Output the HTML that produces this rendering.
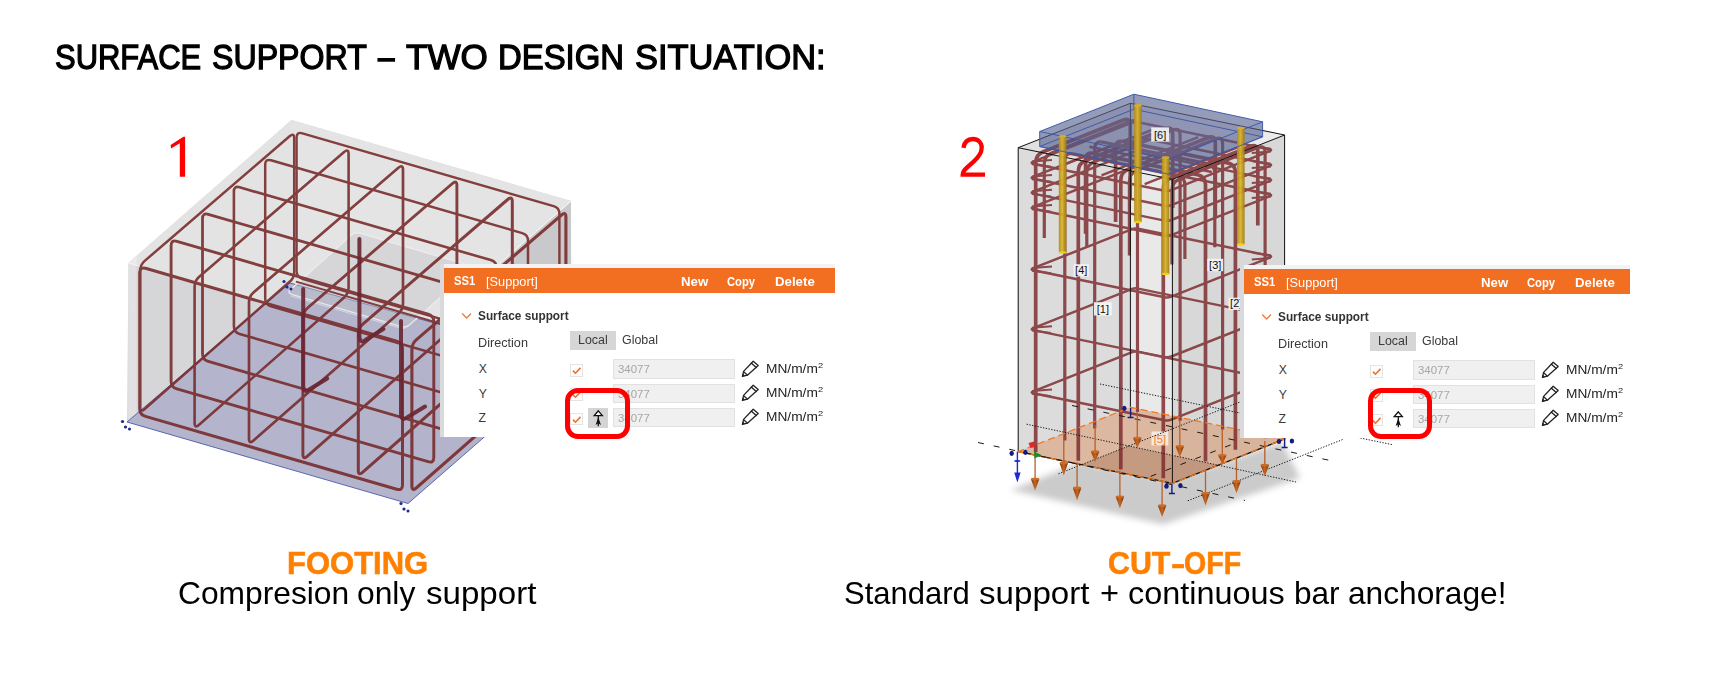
<!DOCTYPE html>
<html><head><meta charset="utf-8"><title>Surface support</title>
<style>
html,body{margin:0;padding:0;background:#fff;}
body{width:1723px;height:678px;position:relative;overflow:hidden;font-family:"Liberation Sans",sans-serif;}
.t{position:absolute;white-space:pre;font-family:"Liberation Sans",sans-serif;}
.abs{position:absolute;}
svg{position:absolute;left:0;top:0;}
</style></head><body>

<svg width="1723" height="678" viewBox="0 0 1723 678">
<polygon points="291.5,120.0 128.5,263.0 127.0,422.0 408.0,503.5 571.5,361.0 571.0,201.0" fill="#dadadb" stroke="none" stroke-width="0" opacity="1" />
<polygon points="291.5,120.0 128.5,263.0 128.5,422.0 291.5,279.0" fill="#d9d9da" stroke="none" stroke-width="0" opacity="1" />
<polygon points="291.5,120.0 571.0,201.0 571.0,360.0 291.5,279.0" fill="#dbdbdc" stroke="none" stroke-width="0" opacity="1" />
<polygon points="128.5,263.0 408.0,344.0 408.0,503.0 128.5,422.0" fill="#c8c8d0" stroke="none" stroke-width="0" opacity="0.12" />
<polygon points="408.0,344.0 571.0,201.0 571.0,360.0 408.0,503.0" fill="#808088" stroke="none" stroke-width="0" opacity="0.2" />
<polygon points="291.5,120.0 128.5,263.0 408.0,344.0 571.0,201.0" fill="#ffffff" stroke="none" stroke-width="0" opacity="0.26" />
<polygon points="128.5,263.0 136.5,256.0 136.5,424.3 128.5,422.0" fill="#ffffff" stroke="none" stroke-width="0" opacity="0.28" />
<g stroke="#f6f6f6" stroke-width="1.1" fill="none" opacity="0.85">
<path d="M128.5 263.0 L408.0 344.0 L571.0 201.0"/>
<path d="M408.0 344.0 L408.0 503.0"/>
</g>
<polygon points="290.0,283.0 127.0,422.0 408.0,503.5 571.5,361.0" fill="#b3b4cc" stroke="#4a58a8" stroke-width="0.9" opacity="0.97" />
<path d="M359.8 233.2 Q355.0 231.8 351.3 235.1 L290.5 289.6 Q286.8 292.9 291.6 294.3 L401.2 326.6 Q406.0 328.0 409.7 324.7 L470.5 270.2 Q474.2 266.9 469.4 265.5 Z" fill="#c4c4c8" fill-opacity="0.42" stroke="#ededed" stroke-width="1.3" stroke-opacity="0.9"/>
<path d="M290.8 295.9 L400.2 328.1 Q405.0 329.5 408.7 326.1 L469.2 269.9" fill="none" stroke="#e6e6e8" stroke-width="1" stroke-opacity="0.7"/>
<g fill="none" stroke="#762828" stroke-linejoin="round" opacity="0.88">
<path d="M296.6 137.6 Q296.6 131.6 302.4 133.3 L553.6 206.1 Q559.4 207.7 559.4 213.7 L559.4 347.3 Q559.4 353.3 553.6 351.6 L302.4 278.8 Q296.6 277.1 296.6 271.1 Z" stroke-width="2.4"/>
<path d="M265.2 164.6 Q265.2 158.6 271.0 160.3 L522.2 233.1 Q528.0 234.7 528.0 240.7 L528.0 374.8 Q528.0 380.8 522.2 379.1 L271.0 306.3 Q265.2 304.7 265.2 298.7 Z" stroke-width="2.5"/>
<path d="M233.9 191.6 Q233.9 185.6 239.6 187.3 L490.8 260.1 Q496.6 261.8 496.6 267.8 L496.6 402.3 Q496.6 408.3 490.8 406.7 L239.6 333.9 Q233.9 332.2 233.9 326.2 Z" stroke-width="2.6"/>
<path d="M202.5 218.6 Q202.5 212.6 208.3 214.3 L459.5 287.1 Q465.2 288.8 465.2 294.8 L465.2 429.9 Q465.2 435.9 459.5 434.2 L208.3 361.4 Q202.5 359.7 202.5 353.7 Z" stroke-width="2.8"/>
<path d="M171.1 245.6 Q171.1 239.6 176.9 241.3 L428.1 314.1 Q433.8 315.8 433.8 321.8 L433.8 457.4 Q433.8 463.4 428.1 461.7 L176.9 388.9 Q171.1 387.2 171.1 381.2 Z" stroke-width="2.9"/>
<path d="M139.7 272.6 Q139.7 266.6 145.5 268.3 L396.7 341.1 Q402.5 342.8 402.5 348.8 L402.5 484.9 Q402.5 490.9 396.7 489.2 L145.5 416.4 Q139.7 414.8 139.7 408.8 Z" stroke-width="3.0"/>
<path d="M294.2 138.4 Q294.2 132.4 289.6 136.3 L144.7 260.9 Q140.2 264.8 140.2 270.8 L140.2 407.0 Q140.2 413.0 144.7 409.0 L289.6 281.8 Q294.2 277.9 294.2 271.9 Z" stroke-width="2.5"/>
<path d="M348.6 154.2 Q348.6 148.2 344.1 152.1 L199.2 276.7 Q194.6 280.6 194.6 286.6 L194.6 422.8 Q194.6 428.8 199.1 424.8 L344.1 297.6 Q348.6 293.6 348.6 287.6 Z" stroke-width="2.6"/>
<path d="M403.0 169.9 Q403.0 163.9 398.4 167.8 L253.5 292.4 Q249.0 296.3 249.0 302.3 L249.0 438.5 Q249.0 444.5 253.5 440.6 L398.5 313.4 Q403.0 309.4 403.0 303.4 Z" stroke-width="2.7"/>
<path d="M456.9 185.6 Q456.9 179.6 452.4 183.5 L307.5 308.0 Q302.9 312.0 302.9 318.0 L302.9 454.1 Q302.9 460.1 307.4 456.2 L452.4 329.0 Q456.9 325.0 456.9 319.0 Z" stroke-width="2.9"/>
<path d="M512.3 201.6 Q512.3 195.6 507.7 199.5 L362.8 324.1 Q358.3 328.0 358.3 334.0 L358.3 470.2 Q358.3 476.2 362.8 472.2 L507.8 345.0 Q512.3 341.1 512.3 335.1 Z" stroke-width="3.0"/>
<path d="M565.9 217.1 Q565.9 211.1 561.4 215.1 L416.5 339.6 Q411.9 343.5 411.9 349.5 L411.9 485.7 Q411.9 491.7 416.5 487.8 L561.4 360.6 Q565.9 356.6 565.9 350.6 Z" stroke-width="3.1"/>
<path d="M296.0 281.6 L440.0 323.5" stroke-width="2"/>
</g>
<g fill="none" stroke="#6a2733" stroke-width="4" stroke-linecap="round" stroke-linejoin="round" opacity="0.92">
<path d="M359.4 239.0 L359.4 336.5 Q359.9 344.0 365.4 340.0 L383.4 329.0"/>
<path d="M303.2 289.0 L303.2 386.0 Q303.7 393.5 309.2 389.5 L327.2 378.5"/>
<path d="M401.0 321.0 L401.0 414.0 Q401.5 421.5 407.0 417.5 L425.0 406.5"/>
<path d="M457.0 271.0 L457.0 368.0 Q457.5 375.5 463.0 371.5 L481.0 360.5"/>
</g>
<g fill="#1a2a8a"><circle cx="122.5" cy="421.5" r="1.6"/><circle cx="125.5" cy="427.0" r="1.6"/><circle cx="129.5" cy="429.0" r="1.5"/></g>
<g fill="#1a2a8a"><circle cx="284.0" cy="281.5" r="1.6"/><circle cx="287.0" cy="287.0" r="1.6"/><circle cx="291.0" cy="289.0" r="1.5"/></g>
<g fill="#1a2a8a"><circle cx="401.0" cy="503.5" r="1.6"/><circle cx="404.0" cy="509.0" r="1.6"/><circle cx="408.0" cy="511.0" r="1.5"/></g>
<defs><filter id="blr" x="-10%" y="-10%" width="120%" height="130%"><feGaussianBlur stdDeviation="3"/></filter><linearGradient id="yg" x1="0" x2="1" y1="0" y2="0"><stop offset="0" stop-color="#b08a18"/><stop offset="0.45" stop-color="#dcb52c"/><stop offset="1" stop-color="#a07c14"/></linearGradient><linearGradient id="cg" x1="0" x2="1" y1="0" y2="0"><stop offset="0" stop-color="#803808"/><stop offset="0.5" stop-color="#c86620"/><stop offset="1" stop-color="#70300a"/></linearGradient></defs>
<polygon points="1080.0,462.0 1011.0,490.0 1163.0,524.5 1300.0,478.0 1282.0,442.0 1170.0,480.0" fill="#cbcbcb" stroke="none" stroke-width="0" opacity="1" filter="url(#blr)"/>
<polygon points="1018.2,147.7 1130.4,103.3 1284.6,135.0 1284.6,439.0 1172.4,483.4 1018.2,451.7" fill="#dadada" stroke="none" stroke-width="0" opacity="1" />
<polygon points="1130.4,103.3 1284.6,135.0 1284.6,439.0 1130.4,407.3" fill="#e2e2e2" stroke="none" stroke-width="0" opacity="1" />
<polygon points="1018.2,147.7 1130.4,103.3 1130.4,407.3 1018.2,451.7" fill="#d1d1d1" stroke="none" stroke-width="0" opacity="1" />
<polygon points="1172.4,179.4 1284.6,135.0 1284.6,439.0 1172.4,483.4" fill="#a8a8a8" stroke="none" stroke-width="0" opacity="0.16" />
<polygon points="1018.2,147.7 1172.4,179.4 1172.4,483.4 1018.2,451.7" fill="#ffffff" stroke="none" stroke-width="0" opacity="0.25" />
<polygon points="1018.2,147.7 1130.4,103.3 1284.6,135.0 1172.4,179.4" fill="#ffffff" stroke="none" stroke-width="0" opacity="0.35" />
<polygon points="1018.2,451.7 1172.4,483.4 1284.6,439.0 1130.4,407.3" fill="#dba98a" stroke="none" stroke-width="0" opacity="0.75" />
<polygon points="1128.5,446.1 1218.0,465.3 1172.4,483.4 1081.3,464.7" fill="#8a5a3c" stroke="none" stroke-width="0" opacity="0.3" />
<g fill="none" stroke="#7c2b2e" stroke-linecap="butt" stroke-linejoin="round" opacity="0.83">
<path d="M1033.4 163.7 Q1030.0 163.0 1033.3 161.7 L1131.5 122.8 Q1134.8 121.5 1138.2 122.2 L1269.4 149.2 Q1272.8 149.9 1269.5 151.2 L1171.3 190.1 Q1168.0 191.4 1164.6 190.7 Z" stroke-width="2.5"/>
<path d="M1032.0 161.4 l20 -1.5 M1032.0 164.2 l19 2.5" stroke-width="2"/>
<path d="M1270.8 151.5 l-19 1.5 M1270.8 148.7 l-18 -2.5" stroke-width="2"/>
<path d="M1033.4 178.7 Q1030.0 178.0 1033.3 176.7 L1131.5 137.8 Q1134.8 136.5 1138.2 137.2 L1269.4 164.2 Q1272.8 164.9 1269.5 166.2 L1171.3 205.1 Q1168.0 206.4 1164.6 205.7 Z" stroke-width="2.5"/>
<path d="M1032.0 176.4 l20 -1.5 M1032.0 179.2 l19 2.5" stroke-width="2"/>
<path d="M1270.8 166.5 l-19 1.5 M1270.8 163.7 l-18 -2.5" stroke-width="2"/>
<path d="M1033.4 193.6 Q1030.0 192.9 1033.3 191.6 L1131.5 152.7 Q1134.8 151.4 1138.2 152.1 L1269.4 179.1 Q1272.8 179.8 1269.5 181.1 L1171.3 220.0 Q1168.0 221.3 1164.6 220.6 Z" stroke-width="2.5"/>
<path d="M1032.0 191.3 l20 -1.5 M1032.0 194.1 l19 2.5" stroke-width="2"/>
<path d="M1270.8 181.4 l-19 1.5 M1270.8 178.6 l-18 -2.5" stroke-width="2"/>
<path d="M1033.4 208.8 Q1030.0 208.1 1033.3 206.8 L1131.5 167.9 Q1134.8 166.6 1138.2 167.3 L1269.4 194.3 Q1272.8 195.0 1269.5 196.3 L1171.3 235.2 Q1168.0 236.5 1164.6 235.8 Z" stroke-width="2.5"/>
<path d="M1032.0 206.5 l20 -1.5 M1032.0 209.3 l19 2.5" stroke-width="2"/>
<path d="M1270.8 196.6 l-19 1.5 M1270.8 193.8 l-18 -2.5" stroke-width="2"/>
<path d="M1033.4 270.2 Q1030.0 269.5 1033.3 268.2 L1131.5 229.3 Q1134.8 228.0 1138.2 228.7 L1269.4 255.7 Q1272.8 256.4 1269.5 257.7 L1171.3 296.6 Q1168.0 297.9 1164.6 297.2 Z" stroke-width="2.5"/>
<path d="M1032.0 267.9 l20 -1.5 M1032.0 270.7 l19 2.5" stroke-width="2"/>
<path d="M1270.8 258.0 l-19 1.5 M1270.8 255.2 l-18 -2.5" stroke-width="2"/>
<path d="M1033.4 330.1 Q1030.0 329.4 1033.3 328.1 L1131.5 289.2 Q1134.8 287.9 1138.2 288.6 L1269.4 315.6 Q1272.8 316.3 1269.5 317.6 L1171.3 356.5 Q1168.0 357.8 1164.6 357.1 Z" stroke-width="2.5"/>
<path d="M1032.0 327.8 l20 -1.5 M1032.0 330.6 l19 2.5" stroke-width="2"/>
<path d="M1270.8 317.9 l-19 1.5 M1270.8 315.1 l-18 -2.5" stroke-width="2"/>
<path d="M1033.4 393.3 Q1030.0 392.6 1033.3 391.3 L1131.5 352.4 Q1134.8 351.1 1138.2 351.9 L1269.4 378.8 Q1272.8 379.5 1269.5 380.8 L1171.3 419.7 Q1168.0 421.0 1164.6 420.3 Z" stroke-width="2.5"/>
<path d="M1032.0 391.0 l20 -1.5 M1032.0 393.8 l19 2.5" stroke-width="2"/>
<path d="M1270.8 381.1 l-19 1.5 M1270.8 378.3 l-18 -2.5" stroke-width="2"/>
<path d="M1035.7 452.0 L1035.7 162.7 Q1035.7 154.7 1043.2 151.7 L1122.8 120.2 Q1130.2 117.3 1130.2 125.3 L1130.2 199.4" stroke-width="3.7"/>
<path d="M1137.5 412.1 L1137.5 126.4 Q1137.5 118.4 1130.1 121.4 L1051.7 153.1 Q1044.3 156.0 1044.3 164.0 L1044.3 238.1" stroke-width="3.2"/>
<path d="M1078.3 460.7 L1078.3 171.4 Q1078.3 163.4 1085.7 160.5 L1165.3 129.0 Q1172.7 126.0 1172.7 134.0 L1172.7 208.1" stroke-width="3.7"/>
<path d="M1180.1 420.8 L1180.1 135.2 Q1180.1 127.2 1172.7 130.1 L1094.3 161.8 Q1086.8 164.8 1086.8 172.8 L1086.8 246.9" stroke-width="3.2"/>
<path d="M1120.8 469.5 L1120.8 180.2 Q1120.8 172.2 1128.2 169.2 L1207.8 137.7 Q1215.3 134.8 1215.3 142.8 L1215.3 216.9" stroke-width="3.7"/>
<path d="M1222.6 429.6 L1222.6 143.9 Q1222.6 135.9 1215.2 138.9 L1136.8 170.5 Q1129.4 173.5 1129.4 181.5 L1129.4 255.6" stroke-width="3.2"/>
<path d="M1163.3 478.2 L1163.3 188.9 Q1163.3 180.9 1170.7 178.0 L1250.3 146.5 Q1257.8 143.5 1257.8 151.5 L1257.8 225.6" stroke-width="3.7"/>
<path d="M1265.1 438.3 L1265.1 152.6 Q1265.1 144.6 1257.7 147.6 L1179.3 179.3 Q1171.9 182.3 1171.9 190.3 L1171.9 264.4" stroke-width="3.2"/>
<path d="M1064.8 440.5 L1064.8 160.3 Q1064.8 152.3 1072.6 153.9 L1177.1 175.4 Q1184.9 177.0 1184.9 185.0 L1184.9 259.1" stroke-width="3.2"/>
<path d="M1235.4 449.7 L1235.4 172.5 Q1235.4 164.5 1227.6 162.9 L1123.4 141.5 Q1115.6 139.9 1115.6 147.9 L1115.6 222.0" stroke-width="3.7"/>
<path d="M1094.7 428.6 L1094.7 148.5 Q1094.7 140.5 1102.6 142.1 L1207.0 163.5 Q1214.8 165.2 1214.8 173.2 L1214.8 247.2" stroke-width="3.2"/>
<path d="M1205.5 461.5 L1205.5 184.4 Q1205.5 176.4 1197.6 174.7 L1093.5 153.3 Q1085.6 151.7 1085.6 159.7 L1085.6 233.8" stroke-width="3.7"/>
<path d="M1155.8 128.4 L1059.1 166.7" stroke-width="2.4"/>
<path d="M1198.2 137.1 L1101.5 175.4" stroke-width="2.4"/>
<path d="M1241.4 146.0 L1144.7 184.2" stroke-width="2.4"/>
<path d="M1089.4 146.8 L1211.8 172.0" stroke-width="2.4"/>
</g>
<g fill="none" stroke="#111" stroke-width="1">
<path d="M1018.2 147.7 L1130.4 103.3 L1284.6 135.0 L1172.4 179.4 Z"/>
<path d="M1018.2 147.7 L1018.2 451.7"/>
<path d="M1172.4 179.4 L1172.4 483.4"/>
<path d="M1284.6 135.0 L1284.6 439.0"/>
<path d="M1130.4 103.3 L1130.4 407.3"/>
<path d="M1018.2 451.7 L1172.4 483.4 L1284.6 439.0" stroke-width="1.3"/>
</g>
<path d="M1018.2 451.7 L1172.4 483.4 L1284.6 439.0 L1130.4 407.3 Z" fill="none" stroke="#f07a22" stroke-width="1.3" stroke-dasharray="7 4"/>
<polygon points="1039.7,131.5 1133.9,94.2 1262.6,121.8 1262.6,136.8 1168.4,174.1 1039.7,146.5" fill="#4f5a8a" stroke="none" stroke-width="0" opacity="0.62" />
<polygon points="1039.7,131.5 1133.9,94.2 1262.6,121.8 1168.4,159.1" fill="#b9c0da" stroke="none" stroke-width="0" opacity="0.08" />
<g fill="none" stroke="#3a58aa" stroke-width="1" opacity="0.95">
<path d="M1039.7 131.5 L1133.9 94.2 L1262.6 121.8 L1168.4 159.1 Z"/>
<path d="M1039.7 146.5 L1133.9 109.2 L1262.6 136.8 L1168.4 174.1 Z"/>
<path d="M1039.7 131.5 L1039.7 146.5"/>
<path d="M1133.9 94.2 L1133.9 109.2"/>
<path d="M1262.6 121.8 L1262.6 136.8"/>
<path d="M1168.4 159.1 L1168.4 174.1"/>
</g>
<rect x="1134.1" y="105.4" width="7.6" height="116.6" fill="url(#yg)" opacity="0.93"/>
<ellipse cx="1137.9" cy="105.4" rx="3.8" ry="1.3" fill="#d4ae30"/>
<ellipse cx="1137.9" cy="222.0" rx="3.8" ry="1.2" fill="#f0d018"/>
<rect x="1058.8" y="136.3" width="7.6" height="116.2" fill="url(#yg)" opacity="0.93"/>
<ellipse cx="1062.6" cy="136.3" rx="3.8" ry="1.3" fill="#d4ae30"/>
<ellipse cx="1062.6" cy="252.5" rx="3.8" ry="1.2" fill="#f0d018"/>
<rect x="1237.0" y="128.0" width="7.6" height="116.5" fill="url(#yg)" opacity="0.93"/>
<ellipse cx="1240.8" cy="128.0" rx="3.8" ry="1.3" fill="#d4ae30"/>
<ellipse cx="1240.8" cy="244.5" rx="3.8" ry="1.2" fill="#f0d018"/>
<rect x="1161.8" y="157.6" width="7.6" height="116.4" fill="url(#yg)" opacity="0.93"/>
<ellipse cx="1165.6" cy="157.6" rx="3.8" ry="1.3" fill="#d4ae30"/>
<ellipse cx="1165.6" cy="274.0" rx="3.8" ry="1.2" fill="#f0d018"/>
<path d="M1039.7 146.5 L1168.4 174.1 L1262.6 136.8" fill="none" stroke="#3a58aa" stroke-width="1" opacity="0.8"/>
<rect x="1151.2" y="127.4" width="17.8" height="14.2" fill="#f4f4f4" opacity="0.92"/><text x="1160.1" y="139.0" font-family="Liberation Sans, sans-serif" font-size="11" fill="#111" text-anchor="middle">[6]</text>
<rect x="1073.7" y="264.2" width="15.1" height="12.3" fill="#f4f4f4" opacity="0.92"/><text x="1081.2" y="273.9" font-family="Liberation Sans, sans-serif" font-size="11" fill="#111" text-anchor="middle">[4]</text>
<rect x="1094.0" y="302.2" width="17.8" height="13.3" fill="#f4f4f4" opacity="0.92"/><text x="1102.9" y="312.9" font-family="Liberation Sans, sans-serif" font-size="11" fill="#111" text-anchor="middle">[1]</text>
<rect x="1207.3" y="258.8" width="15.9" height="12.4" fill="#f4f4f4" opacity="0.92"/><text x="1215.2" y="268.6" font-family="Liberation Sans, sans-serif" font-size="11" fill="#111" text-anchor="middle">[3]</text>
<rect x="1228.5" y="297.7" width="15.5" height="12.3" fill="#f4f4f4" opacity="0.92"/><text x="1236.2" y="307.4" font-family="Liberation Sans, sans-serif" font-size="11" fill="#111" text-anchor="middle">[2]</text>
<rect x="1151.5" y="431.5" width="16.8" height="13.9" fill="#f8ebe3" opacity="0.92"/><text x="1159.9" y="442.8" font-family="Liberation Sans, sans-serif" font-size="11" fill="#f08030" text-anchor="middle">[5]</text>
<g fill="none" stroke="#1a1a1a" stroke-width="1">
<path d="M978 442.5 L1245 500.5" stroke-dasharray="6 10"/>
<path d="M1072 405.5 L1335 461.5" stroke-dasharray="6 10"/>
<path d="M1150.6 476.4 L1240 441.2" stroke-dasharray="6 10"/>
<path d="M1026.6 424.2 L1150 450.5 L1296 482" stroke-dasharray="1.3 1.5"/>
<path d="M1100 384 L1392 444.6" stroke-dasharray="1.3 1.5"/>
<path d="M1058.5 473.8 L1240 402" stroke-dasharray="1.3 1.5"/>
<path d="M1187.8 500.8 L1344 439" stroke-dasharray="1.3 1.5"/>
</g>
<path d="M1035.1 452.0 L1035.1 479.0" stroke="#b8602a" stroke-width="1.3"/>
<path d="M1030.9 479.0 L1039.3 479.0 L1035.1 490.6 Z" fill="url(#cg)"/>
<ellipse cx="1035.1" cy="479.0" rx="4.2" ry="1.3" fill="#cc6c26"/>
<path d="M1063.8 436.6 L1063.8 463.1" stroke="#b8602a" stroke-width="1.3"/>
<path d="M1059.6 463.1 L1068.0 463.1 L1063.8 475.5 Z" fill="url(#cg)"/>
<ellipse cx="1063.8" cy="463.1" rx="4.2" ry="1.3" fill="#cc6c26"/>
<path d="M1077.1 462.3 L1077.1 487.9" stroke="#b8602a" stroke-width="1.3"/>
<path d="M1072.9 487.9 L1081.3 487.9 L1077.1 500.3 Z" fill="url(#cg)"/>
<ellipse cx="1077.1" cy="487.9" rx="4.2" ry="1.3" fill="#cc6c26"/>
<path d="M1095.1 425.0 L1095.1 451.6" stroke="#b8602a" stroke-width="1.3"/>
<path d="M1090.9 451.6 L1099.3 451.6 L1095.1 462.3 Z" fill="url(#cg)"/>
<ellipse cx="1095.1" cy="451.6" rx="4.2" ry="1.3" fill="#cc6c26"/>
<path d="M1119.9 471.0 L1119.9 496.8" stroke="#b8602a" stroke-width="1.3"/>
<path d="M1115.7 496.8 L1124.1 496.8 L1119.9 508.3 Z" fill="url(#cg)"/>
<ellipse cx="1119.9" cy="496.8" rx="4.2" ry="1.3" fill="#cc6c26"/>
<path d="M1137.3 411.0 L1137.3 438.0" stroke="#b8602a" stroke-width="1.3"/>
<path d="M1133.1 438.0 L1141.5 438.0 L1137.3 448.0 Z" fill="url(#cg)"/>
<ellipse cx="1137.3" cy="438.0" rx="4.2" ry="1.3" fill="#cc6c26"/>
<path d="M1162.1 481.0 L1162.1 505.6" stroke="#b8602a" stroke-width="1.3"/>
<path d="M1157.9 505.6 L1166.3 505.6 L1162.1 517.0 Z" fill="url(#cg)"/>
<ellipse cx="1162.1" cy="505.6" rx="4.2" ry="1.3" fill="#cc6c26"/>
<path d="M1179.8 420.0 L1179.8 446.3" stroke="#b8602a" stroke-width="1.3"/>
<path d="M1175.6 446.3 L1184.0 446.3 L1179.8 457.0 Z" fill="url(#cg)"/>
<ellipse cx="1179.8" cy="446.3" rx="4.2" ry="1.3" fill="#cc6c26"/>
<path d="M1205.5 470.0 L1205.5 493.2" stroke="#b8602a" stroke-width="1.3"/>
<path d="M1201.3 493.2 L1209.7 493.2 L1205.5 505.6 Z" fill="url(#cg)"/>
<ellipse cx="1205.5" cy="493.2" rx="4.2" ry="1.3" fill="#cc6c26"/>
<path d="M1222.3 429.0 L1222.3 455.2" stroke="#b8602a" stroke-width="1.3"/>
<path d="M1218.1 455.2 L1226.5 455.2 L1222.3 464.5 Z" fill="url(#cg)"/>
<ellipse cx="1222.3" cy="455.2" rx="4.2" ry="1.3" fill="#cc6c26"/>
<path d="M1236.5 458.0 L1236.5 481.4" stroke="#b8602a" stroke-width="1.3"/>
<path d="M1232.3 481.4 L1240.7 481.4 L1236.5 493.2 Z" fill="url(#cg)"/>
<ellipse cx="1236.5" cy="481.4" rx="4.2" ry="1.3" fill="#cc6c26"/>
<path d="M1264.8 441.0 L1264.8 465.0" stroke="#b8602a" stroke-width="1.3"/>
<path d="M1260.6 465.0 L1269.0 465.0 L1264.8 476.4 Z" fill="url(#cg)"/>
<ellipse cx="1264.8" cy="465.0" rx="4.2" ry="1.3" fill="#cc6c26"/>
<path d="M1017.4 452 L1017.4 476" stroke="#1c2ad8" stroke-width="1.4"/><path d="M1014.2 472.5 L1020.6 472.5 L1017.4 482.5 Z" fill="#1c2ad8"/><ellipse cx="1017.4" cy="461" rx="3.2" ry="1.1" fill="#1c2ad8"/>
<path d="M1028.5 443 l5.5 -1.5 l1 5.5 l-4.5 1 z" fill="#e02828"/><path d="M1034 451.5 l7.5 3.5 l-7 3.5 z" fill="#14902a"/>
<ellipse cx="1011.7" cy="453.3" rx="2.2" ry="2.6" fill="#141a80"/>
<ellipse cx="1025.4" cy="452.3" rx="2.2" ry="2.6" fill="#141a80"/>
<ellipse cx="1166.5" cy="486.2" rx="2.2" ry="2.6" fill="#141a80"/>
<ellipse cx="1180.4" cy="485.6" rx="2.2" ry="2.6" fill="#141a80"/>
<ellipse cx="1279.0" cy="441.4" rx="2.2" ry="2.6" fill="#141a80"/>
<ellipse cx="1291.9" cy="441.0" rx="2.2" ry="2.6" fill="#141a80"/>
<ellipse cx="1124.3" cy="408.3" rx="2.2" ry="2.6" fill="#141a80"/>
<path d="M1171.9 484.0 l0 9.5 m-3 0 l6 0" stroke="#141a80" stroke-width="1.4" fill="none"/>
<path d="M1284.6 438.0 l0 9.5 m-3 0 l6 0" stroke="#141a80" stroke-width="1.4" fill="none"/>
<path d="M1130.6 408.0 l0 9.5 m-3 0 l6 0" stroke="#141a80" stroke-width="1.4" fill="none"/>
</svg>
<div class="abs" style="left:0px;top:0px;width:0;height:0;">
<div class="abs" style="left:440px;top:264px;width:395px;height:173px;background:#fff;"></div>
<div class="abs" style="left:440px;top:264px;width:395px;height:4px;background:#f3f3f5;"></div>
<div class="abs" style="left:440px;top:264px;width:4px;height:173px;background:#dadadc;"></div>
<div class="abs" style="left:444px;top:268px;width:391px;height:25px;background:#f26f21;"></div>
<span class="t" style="left:453.66px;top:274.66px;font-size:12.80px;line-height:12.80px;color:#fff;font-weight:bold;transform:scaleX(0.8782);transform-origin:0 0;">SS1</span>
<span class="t" style="left:485.61px;top:275.54px;font-size:12.00px;line-height:12.00px;color:#fff;transform:scaleX(1.0636);transform-origin:0 0;">[Support]</span>
<span class="t" style="left:680.61px;top:275.54px;font-size:12.00px;line-height:12.00px;color:#fff;font-weight:bold;transform:scaleX(1.1013);transform-origin:0 0;">New</span>
<span class="t" style="left:727.35px;top:275.54px;font-size:12.00px;line-height:12.00px;color:#fff;font-weight:bold;transform:scaleX(0.9369);transform-origin:0 0;">Copy</span>
<span class="t" style="left:775.41px;top:275.54px;font-size:12.00px;line-height:12.00px;color:#fff;font-weight:bold;transform:scaleX(1.1034);transform-origin:0 0;">Delete</span>
<svg class="abs" style="left:461px;top:312px" width="12" height="8" viewBox="0 0 12 8"><path d="M1.2 1.5 L5.6 6 L10 1.5" fill="none" stroke="#f07a3a" stroke-width="1.3"/></svg>
<span class="t" style="left:478.45px;top:309.54px;font-size:12.00px;line-height:12.00px;color:#333;font-weight:bold;transform:scaleX(0.9847);transform-origin:0 0;">Surface support</span>
<span class="t" style="left:478.16px;top:336.94px;font-size:12.00px;line-height:12.00px;color:#3a3a3a;transform:scaleX(1.0548);transform-origin:0 0;">Direction</span>
<div class="abs" style="left:570px;top:330.5px;width:46px;height:19.5px;background:#d6d6d6;"></div>
<span class="t" style="left:577.68px;top:334.24px;font-size:12.00px;line-height:12.00px;color:#3a3a3a;transform:scaleX(1.0342);transform-origin:0 0;">Local</span>
<span class="t" style="left:621.58px;top:334.24px;font-size:12.00px;line-height:12.00px;color:#3a3a3a;transform:scaleX(1.0370);transform-origin:0 0;">Global</span>
<span class="t" style="left:478.63px;top:363.47px;font-size:12.20px;line-height:12.20px;color:#3a3a3a;">X</span>
<div class="abs" style="left:570px;top:364.0px;width:10.5px;height:10.5px;border:1px solid #e4e4e4;background:#fff;"></div>
<svg class="abs" style="left:570px;top:364.0px" width="13" height="13" viewBox="0 0 13 13"><path d="M2.9 6.6 L5.5 9.2 L10.5 3.9" fill="none" stroke="#f26f21" stroke-width="1.6"/></svg>
<div class="abs" style="left:613px;top:359.4px;width:120px;height:17.3px;border:1px solid #e1e1e1;background:#f0f0f0;"></div>
<span class="t" style="left:617.97px;top:364.41px;font-size:11.80px;line-height:11.80px;color:#a6a6a6;transform:scaleX(0.9694);transform-origin:0 0;">34077</span>
<svg class="abs" style="left:741px;top:358.9px" width="20" height="20" viewBox="0 0 20 20"><g fill="none" stroke="#222" stroke-width="1.3" stroke-linejoin="round" stroke-linecap="round"><path d="M12.2 2.2 L17.2 6.6 L6.4 16.2 L1.4 17.4 L2.6 12.4 Z"/><path d="M10.2 4.1 L15.2 8.5"/><path d="M2.6 12.6 L6.2 16"/></g><path d="M1.2 17.6 L1.9 14.6 L4.2 16.9 Z" fill="#222"/></svg>
<span class="t" style="left:765.87px;top:362.79px;font-size:12.30px;line-height:12.30px;color:#222;transform:scaleX(1.1154);transform-origin:0 0;">MN/m/m</span>
<span class="t" style="left:817.94px;top:361.63px;font-size:8.00px;line-height:8.00px;color:#222;transform:scaleX(1.1538);transform-origin:0 0;">2</span>
<span class="t" style="left:478.63px;top:387.67px;font-size:12.20px;line-height:12.20px;color:#3a3a3a;">Y</span>
<div class="abs" style="left:570px;top:388.3px;width:10.5px;height:10.5px;border:1px solid #e4e4e4;background:#fff;"></div>
<svg class="abs" style="left:570px;top:388.3px" width="13" height="13" viewBox="0 0 13 13"><path d="M2.9 6.6 L5.5 9.2 L10.5 3.9" fill="none" stroke="#f26f21" stroke-width="1.6"/></svg>
<div class="abs" style="left:613px;top:383.7px;width:120px;height:17.3px;border:1px solid #e1e1e1;background:#f0f0f0;"></div>
<span class="t" style="left:617.97px;top:388.61px;font-size:11.80px;line-height:11.80px;color:#a6a6a6;transform:scaleX(0.9694);transform-origin:0 0;">34077</span>
<svg class="abs" style="left:741px;top:383.2px" width="20" height="20" viewBox="0 0 20 20"><g fill="none" stroke="#222" stroke-width="1.3" stroke-linejoin="round" stroke-linecap="round"><path d="M12.2 2.2 L17.2 6.6 L6.4 16.2 L1.4 17.4 L2.6 12.4 Z"/><path d="M10.2 4.1 L15.2 8.5"/><path d="M2.6 12.6 L6.2 16"/></g><path d="M1.2 17.6 L1.9 14.6 L4.2 16.9 Z" fill="#222"/></svg>
<span class="t" style="left:765.87px;top:386.99px;font-size:12.30px;line-height:12.30px;color:#222;transform:scaleX(1.1154);transform-origin:0 0;">MN/m/m</span>
<span class="t" style="left:817.94px;top:385.83px;font-size:8.00px;line-height:8.00px;color:#222;transform:scaleX(1.1538);transform-origin:0 0;">2</span>
<span class="t" style="left:478.50px;top:412.07px;font-size:12.20px;line-height:12.20px;color:#3a3a3a;">Z</span>
<div class="abs" style="left:570px;top:412.5px;width:10.5px;height:10.5px;border:1px solid #e4e4e4;background:#fff;"></div>
<svg class="abs" style="left:570px;top:412.5px" width="13" height="13" viewBox="0 0 13 13"><path d="M2.9 6.6 L5.5 9.2 L10.5 3.9" fill="none" stroke="#f26f21" stroke-width="1.6"/></svg>
<div class="abs" style="left:613px;top:407.9px;width:120px;height:17.3px;border:1px solid #e1e1e1;background:#f0f0f0;"></div>
<span class="t" style="left:617.97px;top:413.01px;font-size:11.80px;line-height:11.80px;color:#a6a6a6;transform:scaleX(0.9694);transform-origin:0 0;">34077</span>
<svg class="abs" style="left:741px;top:407.4px" width="20" height="20" viewBox="0 0 20 20"><g fill="none" stroke="#222" stroke-width="1.3" stroke-linejoin="round" stroke-linecap="round"><path d="M12.2 2.2 L17.2 6.6 L6.4 16.2 L1.4 17.4 L2.6 12.4 Z"/><path d="M10.2 4.1 L15.2 8.5"/><path d="M2.6 12.6 L6.2 16"/></g><path d="M1.2 17.6 L1.9 14.6 L4.2 16.9 Z" fill="#222"/></svg>
<span class="t" style="left:765.87px;top:411.39px;font-size:12.30px;line-height:12.30px;color:#222;transform:scaleX(1.1154);transform-origin:0 0;">MN/m/m</span>
<span class="t" style="left:817.94px;top:410.23px;font-size:8.00px;line-height:8.00px;color:#222;transform:scaleX(1.1538);transform-origin:0 0;">2</span>
<div class="abs" style="left:588px;top:407.7px;width:20px;height:20px;background:#d4d4d4;"></div>
<svg class="abs" style="left:588px;top:407.7px" width="20" height="20" viewBox="0 0 20 20"><path d="M10.3 2.9 L14.3 7.6 L6.3 7.6 Z" fill="#fff" stroke="#111" stroke-width="1.35" stroke-linejoin="miter"/><path d="M10.3 8 L10.3 18.3" stroke="#111" stroke-width="1.3"/><path d="M10.3 9.3 L13.0 17 L10.3 15.3 L7.6 17 Z" fill="#111"/></svg>
<div class="abs" style="left:565.1px;top:387.9px;width:54.6px;height:41.4px;border:5.3px solid #ff0000;border-radius:13px;"></div>
</div>
<div class="abs" style="left:800px;top:1px;width:0;height:0;">
<div class="abs" style="left:440px;top:264px;width:390px;height:173px;background:#fff;"></div>
<div class="abs" style="left:440px;top:264px;width:390px;height:4px;background:#f3f3f5;"></div>
<div class="abs" style="left:440px;top:264px;width:4px;height:173px;background:#dadadc;"></div>
<div class="abs" style="left:444px;top:268px;width:386px;height:25px;background:#f26f21;"></div>
<span class="t" style="left:453.66px;top:274.66px;font-size:12.80px;line-height:12.80px;color:#fff;font-weight:bold;transform:scaleX(0.8782);transform-origin:0 0;">SS1</span>
<span class="t" style="left:485.61px;top:275.54px;font-size:12.00px;line-height:12.00px;color:#fff;transform:scaleX(1.0636);transform-origin:0 0;">[Support]</span>
<span class="t" style="left:680.61px;top:275.54px;font-size:12.00px;line-height:12.00px;color:#fff;font-weight:bold;transform:scaleX(1.1013);transform-origin:0 0;">New</span>
<span class="t" style="left:727.35px;top:275.54px;font-size:12.00px;line-height:12.00px;color:#fff;font-weight:bold;transform:scaleX(0.9369);transform-origin:0 0;">Copy</span>
<span class="t" style="left:775.41px;top:275.54px;font-size:12.00px;line-height:12.00px;color:#fff;font-weight:bold;transform:scaleX(1.1034);transform-origin:0 0;">Delete</span>
<svg class="abs" style="left:461px;top:312px" width="12" height="8" viewBox="0 0 12 8"><path d="M1.2 1.5 L5.6 6 L10 1.5" fill="none" stroke="#f07a3a" stroke-width="1.3"/></svg>
<span class="t" style="left:478.45px;top:309.54px;font-size:12.00px;line-height:12.00px;color:#333;font-weight:bold;transform:scaleX(0.9847);transform-origin:0 0;">Surface support</span>
<span class="t" style="left:478.16px;top:336.94px;font-size:12.00px;line-height:12.00px;color:#3a3a3a;transform:scaleX(1.0548);transform-origin:0 0;">Direction</span>
<div class="abs" style="left:570px;top:330.5px;width:46px;height:19.5px;background:#d6d6d6;"></div>
<span class="t" style="left:577.68px;top:334.24px;font-size:12.00px;line-height:12.00px;color:#3a3a3a;transform:scaleX(1.0342);transform-origin:0 0;">Local</span>
<span class="t" style="left:621.58px;top:334.24px;font-size:12.00px;line-height:12.00px;color:#3a3a3a;transform:scaleX(1.0370);transform-origin:0 0;">Global</span>
<span class="t" style="left:478.63px;top:363.47px;font-size:12.20px;line-height:12.20px;color:#3a3a3a;">X</span>
<div class="abs" style="left:570px;top:364.0px;width:10.5px;height:10.5px;border:1px solid #e4e4e4;background:#fff;"></div>
<svg class="abs" style="left:570px;top:364.0px" width="13" height="13" viewBox="0 0 13 13"><path d="M2.9 6.6 L5.5 9.2 L10.5 3.9" fill="none" stroke="#f26f21" stroke-width="1.6"/></svg>
<div class="abs" style="left:613px;top:359.4px;width:120px;height:17.3px;border:1px solid #e1e1e1;background:#f0f0f0;"></div>
<span class="t" style="left:617.97px;top:364.41px;font-size:11.80px;line-height:11.80px;color:#a6a6a6;transform:scaleX(0.9694);transform-origin:0 0;">34077</span>
<svg class="abs" style="left:741px;top:358.9px" width="20" height="20" viewBox="0 0 20 20"><g fill="none" stroke="#222" stroke-width="1.3" stroke-linejoin="round" stroke-linecap="round"><path d="M12.2 2.2 L17.2 6.6 L6.4 16.2 L1.4 17.4 L2.6 12.4 Z"/><path d="M10.2 4.1 L15.2 8.5"/><path d="M2.6 12.6 L6.2 16"/></g><path d="M1.2 17.6 L1.9 14.6 L4.2 16.9 Z" fill="#222"/></svg>
<span class="t" style="left:765.87px;top:362.79px;font-size:12.30px;line-height:12.30px;color:#222;transform:scaleX(1.1154);transform-origin:0 0;">MN/m/m</span>
<span class="t" style="left:817.94px;top:361.63px;font-size:8.00px;line-height:8.00px;color:#222;transform:scaleX(1.1538);transform-origin:0 0;">2</span>
<span class="t" style="left:478.63px;top:387.67px;font-size:12.20px;line-height:12.20px;color:#3a3a3a;">Y</span>
<div class="abs" style="left:570px;top:388.3px;width:10.5px;height:10.5px;border:1px solid #e4e4e4;background:#fff;"></div>
<svg class="abs" style="left:570px;top:388.3px" width="13" height="13" viewBox="0 0 13 13"><path d="M2.9 6.6 L5.5 9.2 L10.5 3.9" fill="none" stroke="#f26f21" stroke-width="1.6"/></svg>
<div class="abs" style="left:613px;top:383.7px;width:120px;height:17.3px;border:1px solid #e1e1e1;background:#f0f0f0;"></div>
<span class="t" style="left:617.97px;top:388.61px;font-size:11.80px;line-height:11.80px;color:#a6a6a6;transform:scaleX(0.9694);transform-origin:0 0;">34077</span>
<svg class="abs" style="left:741px;top:383.2px" width="20" height="20" viewBox="0 0 20 20"><g fill="none" stroke="#222" stroke-width="1.3" stroke-linejoin="round" stroke-linecap="round"><path d="M12.2 2.2 L17.2 6.6 L6.4 16.2 L1.4 17.4 L2.6 12.4 Z"/><path d="M10.2 4.1 L15.2 8.5"/><path d="M2.6 12.6 L6.2 16"/></g><path d="M1.2 17.6 L1.9 14.6 L4.2 16.9 Z" fill="#222"/></svg>
<span class="t" style="left:765.87px;top:386.99px;font-size:12.30px;line-height:12.30px;color:#222;transform:scaleX(1.1154);transform-origin:0 0;">MN/m/m</span>
<span class="t" style="left:817.94px;top:385.83px;font-size:8.00px;line-height:8.00px;color:#222;transform:scaleX(1.1538);transform-origin:0 0;">2</span>
<span class="t" style="left:478.50px;top:412.07px;font-size:12.20px;line-height:12.20px;color:#3a3a3a;">Z</span>
<div class="abs" style="left:570px;top:412.5px;width:10.5px;height:10.5px;border:1px solid #e4e4e4;background:#fff;"></div>
<svg class="abs" style="left:570px;top:412.5px" width="13" height="13" viewBox="0 0 13 13"><path d="M2.9 6.6 L5.5 9.2 L10.5 3.9" fill="none" stroke="#f26f21" stroke-width="1.6"/></svg>
<div class="abs" style="left:613px;top:407.9px;width:120px;height:17.3px;border:1px solid #e1e1e1;background:#f0f0f0;"></div>
<span class="t" style="left:617.97px;top:413.01px;font-size:11.80px;line-height:11.80px;color:#a6a6a6;transform:scaleX(0.9694);transform-origin:0 0;">34077</span>
<svg class="abs" style="left:741px;top:407.4px" width="20" height="20" viewBox="0 0 20 20"><g fill="none" stroke="#222" stroke-width="1.3" stroke-linejoin="round" stroke-linecap="round"><path d="M12.2 2.2 L17.2 6.6 L6.4 16.2 L1.4 17.4 L2.6 12.4 Z"/><path d="M10.2 4.1 L15.2 8.5"/><path d="M2.6 12.6 L6.2 16"/></g><path d="M1.2 17.6 L1.9 14.6 L4.2 16.9 Z" fill="#222"/></svg>
<span class="t" style="left:765.87px;top:411.39px;font-size:12.30px;line-height:12.30px;color:#222;transform:scaleX(1.1154);transform-origin:0 0;">MN/m/m</span>
<span class="t" style="left:817.94px;top:410.23px;font-size:8.00px;line-height:8.00px;color:#222;transform:scaleX(1.1538);transform-origin:0 0;">2</span>
<svg class="abs" style="left:588px;top:407.7px" width="20" height="20" viewBox="0 0 20 20"><path d="M10.3 2.9 L14.3 7.6 L6.3 7.6 Z" fill="#fff" stroke="#111" stroke-width="1.35" stroke-linejoin="miter"/><path d="M10.3 8 L10.3 18.3" stroke="#111" stroke-width="1.3"/><path d="M10.3 9.3 L13.0 17 L10.3 15.3 L7.6 17 Z" fill="#111"/></svg>
<div class="abs" style="left:568.2px;top:386.9px;width:53.9px;height:41.4px;border:5.3px solid #ff0000;border-radius:13px;"></div>
</div>
<span class="t" style="left:54.61px;top:39.73px;font-size:35.40px;line-height:35.40px;color:#000;transform:scaleX(0.8741);transform-origin:0 0;-webkit-text-stroke:1.3px #000;">SURFACE</span>
<span class="t" style="left:212.45px;top:39.73px;font-size:35.40px;line-height:35.40px;color:#000;transform:scaleX(0.9086);transform-origin:0 0;-webkit-text-stroke:1.3px #000;">SUPPORT</span>
<span class="t" style="left:378.00px;top:39.73px;font-size:35.40px;line-height:35.40px;color:#000;transform:scaleX(0.8398);transform-origin:0 0;-webkit-text-stroke:1.3px #000;">–</span>
<span class="t" style="left:405.51px;top:39.73px;font-size:35.40px;line-height:35.40px;color:#000;transform:scaleX(0.9926);transform-origin:0 0;-webkit-text-stroke:1.3px #000;">TWO</span>
<span class="t" style="left:498.39px;top:39.73px;font-size:35.40px;line-height:35.40px;color:#000;transform:scaleX(0.9283);transform-origin:0 0;-webkit-text-stroke:1.3px #000;">DESIGN</span>
<span class="t" style="left:635.35px;top:39.73px;font-size:35.40px;line-height:35.40px;color:#000;transform:scaleX(0.9726);transform-origin:0 0;-webkit-text-stroke:1.3px #000;">SITUATION:</span>
<svg width="1723" height="678" viewBox="0 0 1723 678"><polygon points="185.1,136.7 183.4,136.7 170.6,144.9 171.1,148.6 179.8,143.2 179.8,176.8 185.1,176.8" fill="#ff0000"/><path d="M963.4 147.8 C964.4 142.2 968 139 972.8 139 C978.2 139 981.7 142.6 981.7 147.8 C981.7 152.6 979.2 156.6 973.6 161.6 L966.6 167.8 C963.6 170.4 962.7 172.2 962.7 174.6 L985 174.6" fill="none" stroke="#ff0000" stroke-width="4.3" stroke-linejoin="miter"/></svg>
<span class="t" style="left:287.31px;top:546.91px;font-size:32.00px;line-height:32.00px;color:#ff8000;font-weight:bold;transform:scaleX(0.9689);transform-origin:0 0;-webkit-text-stroke:0.6px #ff8000;">FOOTING</span>
<span class="t" style="left:178.31px;top:578.22px;font-size:31.40px;line-height:31.40px;color:#000;transform:scaleX(1.0114);transform-origin:0 0;">Compresion</span>
<span class="t" style="left:357.25px;top:578.22px;font-size:31.40px;line-height:31.40px;color:#000;transform:scaleX(1.0123);transform-origin:0 0;">only</span>
<span class="t" style="left:425.99px;top:578.22px;font-size:31.40px;line-height:31.40px;color:#000;transform:scaleX(1.0539);transform-origin:0 0;">support</span>
<span class="t" style="left:1108.39px;top:546.91px;font-size:32.00px;line-height:32.00px;color:#ff8000;font-weight:bold;transform:scaleX(0.9492);transform-origin:0 0;-webkit-text-stroke:0.6px #ff8000;">CUT</span>
<span class="t" style="left:1170.69px;top:546.91px;font-size:32.00px;line-height:32.00px;color:#ff8000;font-weight:bold;transform:scaleX(1.3366);transform-origin:0 0;-webkit-text-stroke:0.6px #ff8000;">-</span>
<span class="t" style="left:1184.06px;top:546.91px;font-size:32.00px;line-height:32.00px;color:#ff8000;font-weight:bold;transform:scaleX(0.8924);transform-origin:0 0;-webkit-text-stroke:0.6px #ff8000;">OFF</span>
<span class="t" style="left:844.21px;top:578.22px;font-size:31.40px;line-height:31.40px;color:#000;transform:scaleX(0.9869);transform-origin:0 0;">Standard</span>
<span class="t" style="left:978.69px;top:578.22px;font-size:31.40px;line-height:31.40px;color:#000;transform:scaleX(1.0548);transform-origin:0 0;">support</span>
<span class="t" style="left:1099.55px;top:578.22px;font-size:31.40px;line-height:31.40px;color:#000;transform:scaleX(1.0387);transform-origin:0 0;">+</span>
<span class="t" style="left:1128.12px;top:578.22px;font-size:31.40px;line-height:31.40px;color:#000;transform:scaleX(1.0324);transform-origin:0 0;">continuous</span>
<span class="t" style="left:1293.85px;top:578.22px;font-size:31.40px;line-height:31.40px;color:#000;transform:scaleX(1.0056);transform-origin:0 0;">bar</span>
<span class="t" style="left:1348.45px;top:578.22px;font-size:31.40px;line-height:31.40px;color:#000;transform:scaleX(1.0090);transform-origin:0 0;">anchorage!</span>
</body></html>
